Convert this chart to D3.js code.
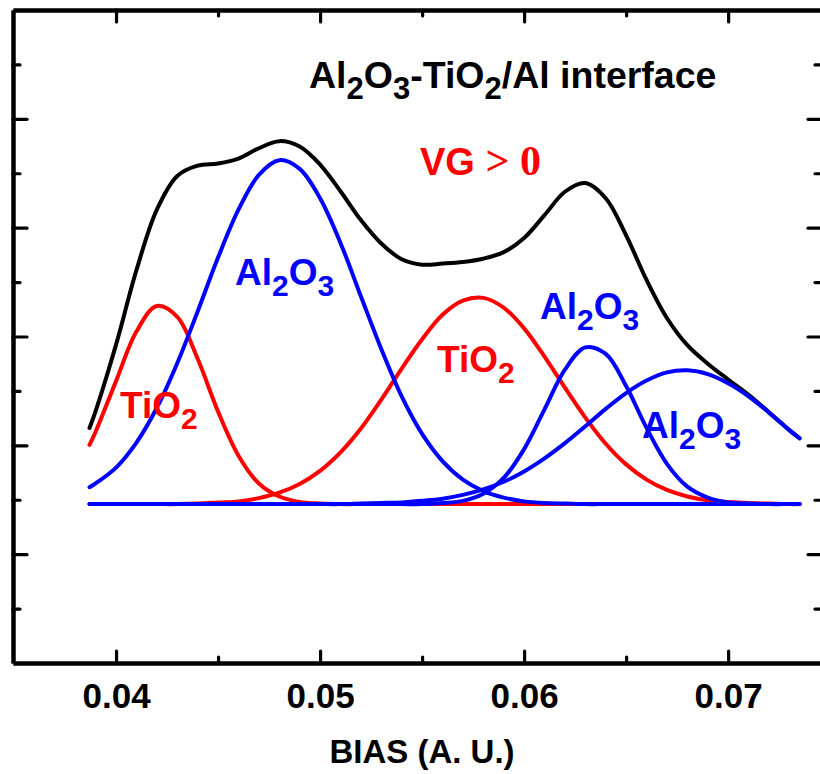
<!DOCTYPE html>
<html>
<head>
<meta charset="utf-8">
<script src="https://cdn.jsdelivr.net/npm/d3@7"></script>
<style>
	body { margin: 0; background: #ffffff; }
	svg { display: block; }
	text { font-family: 'Liberation Sans', Arial, sans-serif; font-weight: bold; }
</style>
</head>
<body>
<svg id="chart"></svg>
<script>
// ========== DATA ==========
var bias = [0.0387, 0.039, 0.040, 0.041, 0.042, 0.043, 0.044, 0.045, 0.046, 0.047,
	0.048, 0.049, 0.050, 0.051, 0.052, 0.053, 0.054, 0.055, 0.056, 0.057,
	0.058, 0.059, 0.060, 0.061, 0.062, 0.063, 0.064, 0.065, 0.066, 0.067,
	0.068, 0.069, 0.070, 0.071, 0.072, 0.073, 0.0735];

// fitted components, height above the common baseline
var tio2_a = [1.09, 1.33, 2.26, 3.17, 3.64, 3.44, 2.67, 1.70, 0.89, 0.38,
	0.14, 0.04, 0.01, 0, 0, 0, 0, 0, 0, 0,
	0, 0, 0, 0, 0, 0, 0, 0, 0, 0,
	0, 0, 0, 0, 0, 0, 0];
var al2o3_a = [0.31, 0.38, 0.67, 1.13, 1.77, 2.59, 3.54, 4.53, 5.41, 6.05,
	6.32, 6.16, 5.62, 4.80, 3.82, 2.85, 1.98, 1.29, 0.79, 0.45,
	0.24, 0.12, 0.05, 0.02, 0.01, 0, 0, 0, 0, 0,
	0, 0, 0, 0, 0, 0, 0];
var tio2_b = [0, 0, 0, 0, 0, 0, 0.01, 0.03, 0.05, 0.11,
	0.21, 0.37, 0.61, 0.95, 1.39, 1.92, 2.49, 3.03, 3.48, 3.74,
	3.79, 3.61, 3.23, 2.71, 2.14, 1.59, 1.11, 0.73, 0.45, 0.26,
	0.14, 0.07, 0.04, 0.02, 0.01, 0, 0];
var al2o3_b = [0, 0, 0, 0, 0, 0, 0, 0, 0, 0,
	0, 0, 0, 0, 0, 0, 0, 0, 0.02, 0.06,
	0.19, 0.48, 1.01, 1.74, 2.47, 2.88, 2.76, 2.17, 1.40, 0.74,
	0.32, 0.12, 0.03, 0.01, 0, 0, 0];
var al2o3_c = [0, 0, 0, 0, 0, 0, 0, 0, 0, 0,
	0, 0, 0, 0, 0.01, 0.02, 0.03, 0.06, 0.10, 0.17,
	0.27, 0.41, 0.60, 0.84, 1.12, 1.43, 1.75, 2.04, 2.27, 2.42,
	2.46, 2.39, 2.22, 1.98, 1.68, 1.36, 1.21];
// measured envelope
var total = [1.40, 1.71, 2.93, 4.30, 5.41, 6.03, 6.22, 6.26, 6.35, 6.54,
	6.67, 6.57, 6.24, 5.75, 5.22, 4.79, 4.50, 4.40, 4.42, 4.45,
	4.51, 4.63, 4.89, 5.31, 5.74, 5.90, 5.62, 4.94, 4.12, 3.42,
	2.92, 2.58, 2.29, 2.01, 1.69, 1.36, 1.21];
var baseline = 2.92;

var xTicks = [0.04, 0.05, 0.06, 0.07];
var xMinor = [0.045, 0.055, 0.065];
var yTicks = [2, 4, 6, 8, 10];
var yMinor = [1, 3, 5, 7, 9, 11];

var title = [['Al', 0], ['2', 1], ['O', 0], ['3', 1], ['-TiO', 0], ['2', 1], ['/Al interface', 0]];
var al2o3 = [['Al', 0], ['2', 1], ['O', 0], ['3', 1]];
var tio2 = [['TiO', 0], ['2', 1]];

// ========== CONSTANTS ==========
var width = 820;
var height = 774;
var plotLeft = 13, plotRight = 822, plotTop = 10, plotBottom = 663;
var red = '#ff0000';
var blue = '#0000ff';

var svg = d3.select('#chart')
	.attr('width', width)
	.attr('height', height);

var x = d3.scaleLinear()
	.domain([0.03495, 0.0746])
	.range([plotLeft, plotRight]);
var y = d3.scaleLinear()
	.domain([0, 12])
	.range([plotBottom, plotTop]);

// ========== AXES ==========
function fmt(d) { return d3.format('.2f')(d); }

svg.append('g')
	.attr('transform', 'translate(0,' + plotBottom + ')')
	.call(d3.axisBottom(x).tickValues(xTicks).tickFormat(fmt).tickSizeInner(-12).tickSizeOuter(0).tickPadding(20));
svg.append('g')
	.attr('transform', 'translate(0,' + plotBottom + ')')
	.call(d3.axisBottom(x).tickValues(xMinor).tickFormat('').tickSizeInner(-6).tickSizeOuter(0));
svg.append('g')
	.attr('transform', 'translate(0,' + plotTop + ')')
	.call(d3.axisTop(x).tickValues(xTicks).tickFormat('').tickSizeInner(-12).tickSizeOuter(0));
svg.append('g')
	.attr('transform', 'translate(0,' + plotTop + ')')
	.call(d3.axisTop(x).tickValues(xMinor).tickFormat('').tickSizeInner(-6).tickSizeOuter(0));
svg.append('g')
	.attr('transform', 'translate(' + plotLeft + ',0)')
	.call(d3.axisLeft(y).tickValues(yTicks).tickFormat('').tickSizeInner(-14).tickSizeOuter(0));
svg.append('g')
	.attr('transform', 'translate(' + plotLeft + ',0)')
	.call(d3.axisLeft(y).tickValues(yMinor).tickFormat('').tickSizeInner(-7).tickSizeOuter(0));
svg.append('g')
	.attr('transform', 'translate(' + plotRight + ',0)')
	.call(d3.axisRight(y).tickValues(yTicks).tickFormat('').tickSizeInner(-14).tickSizeOuter(0));
svg.append('g')
	.attr('transform', 'translate(' + plotRight + ',0)')
	.call(d3.axisRight(y).tickValues(yMinor).tickFormat('').tickSizeInner(-7).tickSizeOuter(0));

svg.selectAll('.domain')
	.attr('stroke', '#000')
	.attr('stroke-width', 4);
svg.selectAll('.tick line')
	.attr('stroke', '#000')
	.attr('stroke-width', 3.2)
	.attr('stroke-linecap', 'round');
svg.selectAll('.tick text')
	.attr('fill', '#000')
	.style('font-size', '35px')
	.style('font-family', "'Liberation Sans', Arial, sans-serif")
	.style('font-weight', 'bold');

svg.append('text')
	.attr('x', 422)
	.attr('y', 763)
	.attr('text-anchor', 'middle')
	.style('font-size', '33px')
	.text('BIAS (A. U.)');

// ========== CURVES ==========
function drawCurve(values, color) {
	var line = d3.line()
		.x(function(d, i) { return x(bias[i]); })
		.y(function(d) { return y(baseline + d); })
		.curve(d3.curveCatmullRom.alpha(0.5));
	svg.append('path')
		.datum(values)
		.attr('d', line)
		.attr('fill', 'none')
		.attr('stroke', color)
		.attr('stroke-width', 4)
		.attr('stroke-linejoin', 'round')
		.attr('stroke-linecap', 'round');
}

drawCurve(total, '#000000');
drawCurve(tio2_a, red);
drawCurve(tio2_b, red);
drawCurve(al2o3_a, blue);
drawCurve(al2o3_b, blue);
drawCurve(al2o3_c, blue);

// ========== LABELS ==========
function formula(parts, px, py, size, color) {
	var sub = Math.round(size * 0.82);
	var shift = Math.round(size * 0.3);
	var t = svg.append('text')
		.attr('x', px)
		.attr('y', py)
		.attr('fill', color)
		.style('font-size', size + 'px');
	var down = false;
	parts.forEach(function(p) {
		var dy = 0;
		if (p[1] && !down) { dy = shift; down = true; }
		else if (!p[1] && down) { dy = -shift; down = false; }
		t.append('tspan')
			.attr('dy', dy)
			.style('font-size', (p[1] ? sub : size) + 'px')
			.text(p[0]);
	});
	return t;
}

formula(title, 309, 88, 37.5, '#000');
formula(al2o3, 235, 285, 37, blue);
formula(tio2, 120, 418, 37, red);
formula(al2o3, 540, 319, 37, blue);
formula(tio2, 437, 372, 37, red);
formula(al2o3, 642, 438, 37, blue);

var vg = svg.append('text')
	.attr('x', 420)
	.attr('y', 175)
	.attr('fill', red)
	.style('font-size', '38px');
vg.append('tspan').text('VG ');
vg.append('tspan')
	.style('font-family', "'Liberation Serif', 'Times New Roman', serif")
	.style('font-size', '42px')
	.text('> 0');
</script>
</body>
</html>
